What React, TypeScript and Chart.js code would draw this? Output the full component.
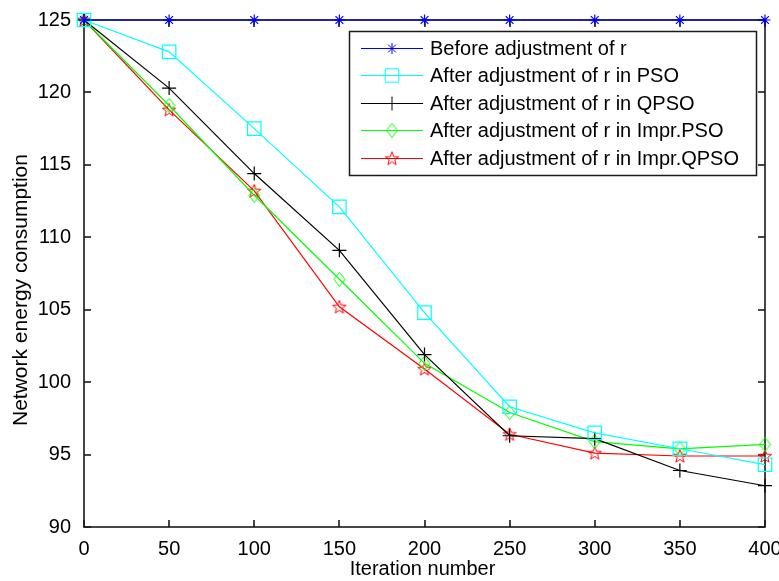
import React, { useEffect, useRef } from 'react';
import { Chart, registerables } from 'chart.js';
import { drawPoint } from 'chart.js/helpers';

Chart.register(...registerables);

const FONT = '"Liberation Sans", Arial, Helvetica, sans-serif';

// ---- data ----
const iterations = [0, 50, 100, 150, 200, 250, 300, 350, 400];
const beforeAdj = [125, 125, 125, 125, 125, 125, 125, 125, 125];
const psoAdj = [125, 122.8, 117.5, 112.1, 104.8, 98.3, 96.5, 95.4, 94.3];
const qpsoAdj = [125, 120.3, 114.4, 109.1, 101.9, 96.3, 96.1, 93.9, 92.85];
const imprPsoAdj = [125, 119.1, 112.9, 107.1, 101.3, 97.9, 95.9, 95.4, 95.7];
const imprQpsoAdj = [125, 118.8, 113.2, 105.2, 100.9, 96.4, 95.1, 94.9, 94.9];

const seriesLabels = [
  'Before adjustment of r',
  'After adjustment of r in PSO',
  'After adjustment of r in QPSO',
  'After adjustment of r in Impr.PSO',
  'After adjustment of r in Impr.QPSO',
];
const xTitle = 'Iteration number';
const yTitle = 'Network energy consumption';

function makeDiamond(color: string) {
  const c = document.createElement('canvas');
  c.width = 13;
  c.height = 15;
  const ctx = c.getContext('2d')!;
  ctx.strokeStyle = color;
  ctx.lineWidth = 1;
  ctx.beginPath();
  ctx.moveTo(6.5, 0.5);
  ctx.lineTo(12, 7.5);
  ctx.lineTo(6.5, 14.5);
  ctx.lineTo(1, 7.5);
  ctx.closePath();
  ctx.stroke();
  return c;
}

function makePentagram(color: string) {
  const c = document.createElement('canvas');
  c.width = 16;
  c.height = 16;
  const ctx = c.getContext('2d')!;
  ctx.strokeStyle = color;
  ctx.lineWidth = 1;
  const cx = 8, cy = 8.5, ro = 7, ri = 2.9;
  ctx.beginPath();
  for (let i = 0; i < 10; i++) {
    const r = i % 2 === 0 ? ro : ri;
    const a = -Math.PI / 2 + (i * Math.PI) / 5;
    const px = cx + r * Math.cos(a);
    const py = cy + r * Math.sin(a);
    if (i === 0) ctx.moveTo(px, py);
    else ctx.lineTo(px, py);
  }
  ctx.closePath();
  ctx.stroke();
  return c;
}

const matlabPlugin = {
  id: 'matlabStyle',
  beforeDatasetsDraw(chart: any) {
    const { ctx, chartArea } = chart;
    const { left, right, top, bottom } = chartArea;
    const xs = chart.scales.x;
    const ys = chart.scales.y;
    ctx.save();
    ctx.strokeStyle = '#1a1a1a';
    ctx.lineWidth = 1.6;
    ctx.lineCap = 'butt';
    ctx.strokeRect(left, top, right - left, bottom - top);
    const tl = 7;
    const xVals: number[] = xs.ticks.map((t: any) => t.value);
    const yVals: number[] = ys.ticks.map((t: any) => t.value);
    xVals.forEach((v) => {
      const px = Math.round(xs.getPixelForValue(v));
      ctx.beginPath();
      ctx.moveTo(px, bottom);
      ctx.lineTo(px, bottom - tl);
      ctx.stroke();
      ctx.beginPath();
      ctx.moveTo(px, top);
      ctx.lineTo(px, top + tl);
      ctx.stroke();
    });
    yVals.forEach((v) => {
      const py = Math.round(ys.getPixelForValue(v));
      ctx.beginPath();
      ctx.moveTo(left, py);
      ctx.lineTo(left + tl, py);
      ctx.stroke();
      ctx.beginPath();
      ctx.moveTo(right, py);
      ctx.lineTo(right - tl, py);
      ctx.stroke();
    });
    ctx.restore();
  },
  afterDraw(chart: any) {
    const { ctx, chartArea } = chart;
    ctx.save();
    // axis titles
    ctx.fillStyle = '#000';
    ctx.font = `20px ${FONT}`;
    ctx.textAlign = 'center';
    ctx.textBaseline = 'alphabetic';
    ctx.fillText(xTitle, (chartArea.left + chartArea.right) / 2 - 2, 575);
    ctx.save();
    ctx.font = `21px ${FONT}`;
    ctx.translate(27, 290);
    ctx.rotate(-Math.PI / 2);
    ctx.fillText(yTitle, 0, 0);
    ctx.restore();

    // legend
    const bx = 349.5, by = 31.5, bw = 407, bh = 144;
    ctx.fillStyle = '#fff';
    ctx.fillRect(bx, by, bw, bh);
    ctx.strokeStyle = '#1a1a1a';
    ctx.lineWidth = 1.5;
    ctx.strokeRect(bx, by, bw, bh);
    chart.data.datasets.forEach((ds: any, i: number) => {
      const y = Math.round(48 + i * 27.4) + 0.5;
      ctx.strokeStyle = ds.borderColor;
      ctx.lineWidth = 1;
      ctx.beginPath();
      ctx.moveTo(361, y);
      ctx.lineTo(423, y);
      ctx.stroke();
      ctx.save();
      ctx.strokeStyle = ds.borderColor;
      ctx.fillStyle = 'rgba(0,0,0,0)';
      ctx.lineWidth = 1;
      drawPoint(ctx, {
        pointStyle: ds.pointStyle,
        radius: ds.pointRadius,
        borderWidth: 1,
        rotation: 0,
      }, 392, y);
      ctx.restore();
      ctx.fillStyle = '#000';
      ctx.font = `20px ${FONT}`;
      ctx.textAlign = 'left';
      ctx.textBaseline = 'middle';
      ctx.fillText(ds.label, 430, y + 1);
    });
    ctx.restore();
  },
};

export default function App() {
  const canvasRef = useRef<HTMLCanvasElement | null>(null);

  useEffect(() => {
    if (!canvasRef.current) return;
    const toXY = (vals: number[]) => iterations.map((x, i) => ({ x, y: vals[i] }));
    const colors = ['#0000ff', '#00ffff', '#000000', '#00ff00', '#ff0000'];
    const styles: any[] = ['star', 'rect', 'cross', makeDiamond('#00ff00'), makePentagram('#ff0000')];
    const radii = [5.5, 9.5, 7, 7, 8];
    const values = [beforeAdj, psoAdj, qpsoAdj, imprPsoAdj, imprQpsoAdj];

    const chart = new Chart(canvasRef.current, {
      type: 'line',
      data: {
        datasets: values.map((v, i) => ({
          label: seriesLabels[i],
          data: toXY(v),
          borderColor: colors[i],
          borderWidth: 1.2,
          pointStyle: styles[i],
          pointRadius: radii[i],
          pointHoverRadius: radii[i],
          pointBorderColor: colors[i],
          pointBackgroundColor: 'rgba(0,0,0,0)',
          pointBorderWidth: 1.2,
          fill: false,
          tension: 0,
          clip: false as any,
        })),
      },
      options: {
        animation: false,
        responsive: true,
        maintainAspectRatio: false,
        layout: { padding: { top: 20, right: 14, left: 0, bottom: 0 } },
        plugins: {
          legend: { display: false },
          tooltip: { enabled: false },
        },
        scales: {
          x: {
            type: 'linear',
            min: 0,
            max: 400,
            grid: { display: false },
            border: { display: false },
            ticks: {
              stepSize: 50,
              color: '#000',
              padding: 2,
              maxRotation: 0,
              font: { family: FONT, size: 20 },
            },
            afterFit: (s: any) => {
              s.height = 54;
              s.paddingLeft = 0;
              s.paddingRight = 0;
            },
          },
          y: {
            type: 'linear',
            min: 90,
            max: 125,
            grid: { display: false },
            border: { display: false },
            ticks: {
              stepSize: 5,
              color: '#000',
              padding: 5,
              font: { family: FONT, size: 20 },
            },
            afterFit: (s: any) => {
              s.width = 84;
              s.paddingTop = 0;
              s.paddingBottom = 0;
            },
          },
        },
      },
      plugins: [matlabPlugin],
    });
    return () => chart.destroy();
  }, []);

  return (
    <div style={{ position: 'absolute', left: 0, top: 0, width: 779, height: 581, background: '#fff' }}>
      <canvas ref={canvasRef} />
    </div>
  );
}
